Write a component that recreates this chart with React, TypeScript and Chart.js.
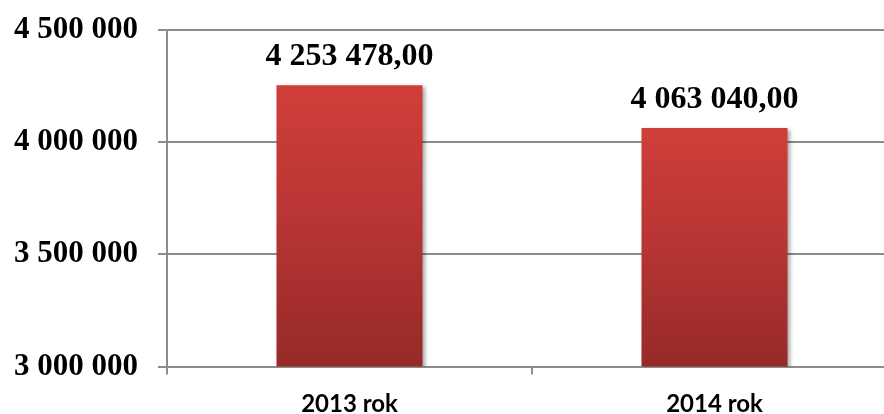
import React, { useEffect, useRef } from "react";
import { Chart, registerables } from "chart.js";

Chart.register(...registerables);

const categories = ["2013 rok", "2014 rok"];
const values = [4253478.0, 4063040.0];
const yMin = 3000000;
const yMax = 4500000;
const yStep = 500000;

const groupThousands = (s: string) => s.replace(/\B(?=(\d{3})+(?!\d))/g, " ");
const fmtValue = (v: number) => {
  const [i, d] = v.toFixed(2).split(".");
  return groupThousands(i) + "," + d;
};
const fmtTick = (v: number) => groupThousands(String(Math.round(v)));

const barFill = (c: any) => {
  const chart = c.chart;
  const yScale = chart.scales && chart.scales.y;
  if (!chart.chartArea || !yScale || c.dataIndex === undefined) return "#b83533";
  const top = yScale.getPixelForValue(values[c.dataIndex]);
  const bottom = yScale.getPixelForValue(yMin);
  const g = chart.ctx.createLinearGradient(0, top, 0, bottom);
  g.addColorStop(0, "#d03e3a");
  g.addColorStop(0.45, "#b93634");
  g.addColorStop(1, "#962a28");
  return g;
};

const barStyle = {
  id: "barStyle",
  beforeDatasetDraw(chart: any) {
    const ctx = chart.ctx;
    ctx.save();
    ctx.shadowColor = "rgba(0,0,0,0.35)";
    ctx.shadowBlur = 4;
    ctx.shadowOffsetX = 2;
    ctx.shadowOffsetY = 2;
  },
  afterDatasetDraw(chart: any) {
    chart.ctx.restore();
  },
  afterDatasetsDraw(chart: any) {
    const ctx = chart.ctx;
    const meta = chart.getDatasetMeta(0);
    ctx.save();
    ctx.font = "bold 32px 'Liberation Serif', 'Times New Roman', serif";
    ctx.fillStyle = "#000";
    ctx.textAlign = "center";
    ctx.textBaseline = "alphabetic";
    meta.data.forEach((bar: any, i: number) => {
      ctx.fillText(fmtValue(values[i]), bar.x, bar.y - 20);
    });
    ctx.restore();
  },
};

export default function App() {
  const ref = useRef<HTMLCanvasElement | null>(null);
  useEffect(() => {
    if (!ref.current) return;
    const chart = new Chart(ref.current, {
      type: "bar",
      data: {
        labels: categories,
        datasets: [
          {
            data: values,
            backgroundColor: barFill,
            borderWidth: 0,
            barPercentage: 0.4,
            categoryPercentage: 1,
          },
        ],
      },
      options: {
        animation: false,
        responsive: false,
        devicePixelRatio: 1,
        layout: { padding: { top: 30, left: 0, right: 0, bottom: 0 } },
        plugins: {
          legend: { display: false },
          tooltip: { enabled: false },
        },
        scales: {
          x: {
            offset: true,
            grid: {
              offset: true,
              drawOnChartArea: false,
              drawTicks: true,
              tickLength: 8,
              color: "#8c8c8c",
              lineWidth: 2,
            },
            border: { color: "#8c8c8c", width: 2 },
            ticks: {
              padding: 15,
              color: "#000",
              font: { family: "Lato, 'Liberation Sans', sans-serif", size: 24, weight: "bold" },
            },
            afterFit(scale: any) {
              scale.height = 47.5;
              scale.paddingLeft = 0;
              scale.paddingRight = 0;
            },
          },
          y: {
            min: yMin,
            max: yMax,
            ticks: {
              stepSize: yStep,
              padding: 20,
              color: "#000",
              font: { family: "'Liberation Serif', 'Times New Roman', serif", size: 31, weight: "bold" },
              callback: (v: any) => fmtTick(Number(v)),
            },
            grid: {
              color: "#8c8c8c",
              lineWidth: 2,
              tickLength: 9,
              drawTicks: true,
            },
            border: { color: "#8c8c8c", width: 2 },
            afterFit(scale: any) {
              scale.width = 167;
              scale.paddingTop = 0;
              scale.paddingBottom = 0;
            },
          },
        },
      },
      plugins: [barStyle],
    });
    return () => chart.destroy();
  }, []);
  return (
    <div
      style={{
        position: "fixed",
        left: 0,
        top: 0,
        width: 884,
        height: 414,
        overflow: "hidden",
        background: "#fff",
      }}
    >
      <canvas ref={ref} width={897} height={414} style={{ display: "block" }} />
    </div>
  );
}
